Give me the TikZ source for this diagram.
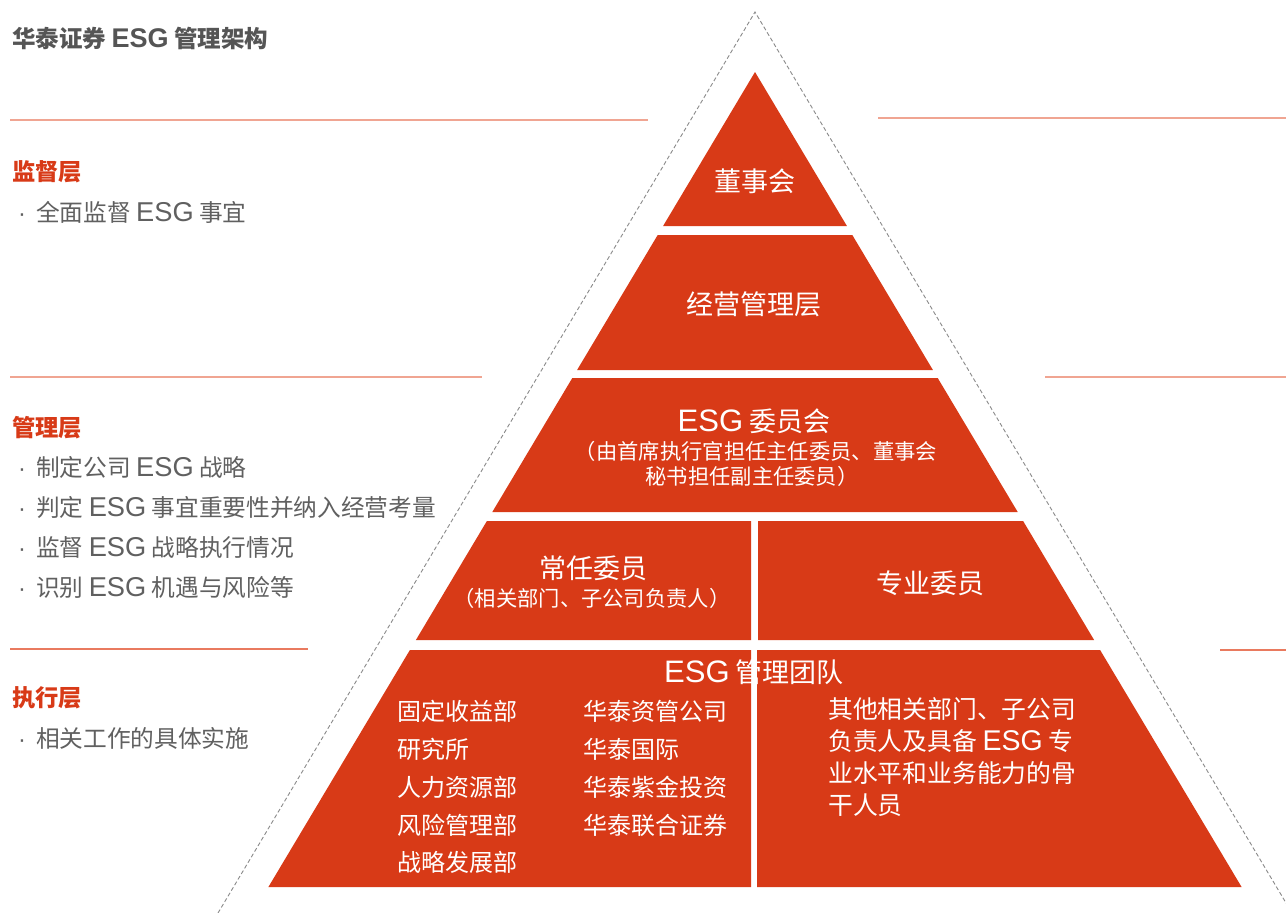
\documentclass[tikz,border=0pt]{standalone}
\usepackage{fontspec}
\setmainfont{Noto Sans CJK SC}
\newfontfamily\latf[Scale=1.15]{Liberation Sans}
\newfontfamily\dotf{Liberation Sans}
\definecolor{pyr}{HTML}{D83A17}
\definecolor{ruleA}{HTML}{F0A592}
\definecolor{ruleB}{HTML}{E97A5F}
\definecolor{grayt}{HTML}{606060}
\definecolor{titleg}{HTML}{555555}
\definecolor{dashc}{HTML}{8A8A8A}
\newcommand{\esg}{{\latf ESG}}
\newcommand{\bul}{{\dotf ·}\hspace{10pt}}
\begin{document}
\begin{tikzpicture}[x=1pt,y=-1pt,
  block/.style={fill=pyr},
  sepA/.style={draw=ruleA,line width=1.2pt},
  sepB/.style={draw=ruleB,line width=1.2pt},
  wtext/.style={text=white,inner sep=0pt,font=\fontsize{27}{31}\selectfont},
  wsub/.style={text=white,inner sep=0pt,font=\fontsize{21.3}{25}\selectfont},
  wlist/.style={text=white,inner sep=0pt,anchor=west,font=\fontsize{24}{28}\selectfont},
  wright/.style={text=white,inner sep=0pt,anchor=west,font=\fontsize{24.8}{28}\selectfont},
  lhead/.style={text=pyr,inner sep=0pt,anchor=west,font=\bfseries\fontsize{23.3}{27}\selectfont},
  litem/.style={text=grayt,inner sep=0pt,anchor=west,font=\fontsize{23.7}{27}\selectfont},
]
\useasboundingbox (0,0) rectangle (1286,913);
\fill[white] (0,0) rectangle (1286,913);

% dashed outline
\begin{scope}
\clip (0,0) rectangle (1286,913);
\coordinate (dtop) at (755,12);
\coordinate (dl) at (218,913);
\coordinate (dr) at (1292,913);
\draw[dashc,line width=0.9pt,dash pattern=on 4pt off 2.5pt] (dl) -- (dtop) -- (dr);
\end{scope}

% horizontal rules
\draw[sepA] (10,120) -- (648,120);
\draw[sepA] (878,118) -- (1286,118);
\draw[sepA] (10,377) -- (482,377);
\draw[sepA] (1045,377) -- (1286,377);
\draw[sepB] (10,649) -- (308,649);
\draw[sepB] (1220,650) -- (1286,650);

% pyramid blocks
\fill[block] (755,72) -- (846.9,226) -- (663.1,226) -- cycle;
\fill[block] (657.7,235) -- (852.3,235) -- (932.9,370) -- (577.1,370) -- cycle;
\fill[block] (572.3,378) -- (937.7,378) -- (1017.7,512) -- (492.3,512) -- cycle;
\fill[block] (486.9,521) -- (751,521) -- (751,640) -- (415.9,640) -- cycle;
\fill[block] (758,521) -- (1023.1,521) -- (1094.1,640) -- (758,640) -- cycle;
\fill[block] (409.9,650) -- (751,650) -- (751,887) -- (268.4,887) -- cycle;
\fill[block] (757,650) -- (1100.1,650) -- (1241.6,887) -- (757,887) -- cycle;

% title and left texts
\node[inner sep=0pt,anchor=west,text=titleg,font=\bfseries\fontsize{23.5}{27}\selectfont] (title) at (12,38) {华泰证券 \esg{} 管理架构};
\node[lhead] (h1) at (12,172) {监督层};
\node[litem] (h1a) at (18,212) {\bul 全面监督 \esg{} 事宜};
\node[lhead] (h2) at (12,428) {管理层};
\node[litem] (h2a) at (18,467) {\bul 制定公司 \esg{} 战略};
\node[litem] (h2b) at (18,507) {\bul 判定 \esg{} 事宜重要性并纳入经营考量};
\node[litem] (h2c) at (18,547) {\bul 监督 \esg{} 战略执行情况};
\node[litem] (h2d) at (18,587) {\bul 识别 \esg{} 机遇与风险等};
\node[lhead] (h3) at (12,698) {执行层};
\node[litem] (h3a) at (18,738) {\bul 相关工作的具体实施};

% pyramid texts
\node[wtext] (board) at (755,181) {董事会};
\node[wtext] (mgmt) at (754,304) {经营管理层};
\node[wtext] (comm) at (754,421) {\esg{} 委员会};
\node[wsub] (comm1) at (756,451) {（由首席执行官担任主任委员、董事会};
\node[wsub] (comm2) at (752,476) {秘书担任副主任委员）};
\node[wtext] (perm) at (593,568) {常任委员};
\node[wsub] (perm1) at (592,598) {（相关部门、子公司负责人）};
\node[wtext] (prof) at (930,583) {专业委员};
\node[wtext] (team) at (754,672) {\esg{} 管理团队};
\node[wlist] (c1a) at (397,711) {固定收益部};
\node[wlist] (c1b) at (397,749) {研究所};
\node[wlist] (c1c) at (397,787) {人力资源部};
\node[wlist] (c1d) at (397,825) {风险管理部};
\node[wlist] (c1e) at (397,862) {战略发展部};
\node[wlist] (c2a) at (583,711) {华泰资管公司};
\node[wlist] (c2b) at (583,749) {华泰国际};
\node[wlist] (c2c) at (583,787) {华泰紫金投资};
\node[wlist] (c2d) at (583,825) {华泰联合证券};
\node[wright] (r1) at (828,709) {其他相关部门、子公司};
\node[wright] (r2) at (828,741) {负责人及具备 \esg{} 专};
\node[wright] (r3) at (828,773) {业水平和业务能力的骨};
\node[wright] (r4) at (828,805) {干人员};
\end{tikzpicture}
\end{document}
